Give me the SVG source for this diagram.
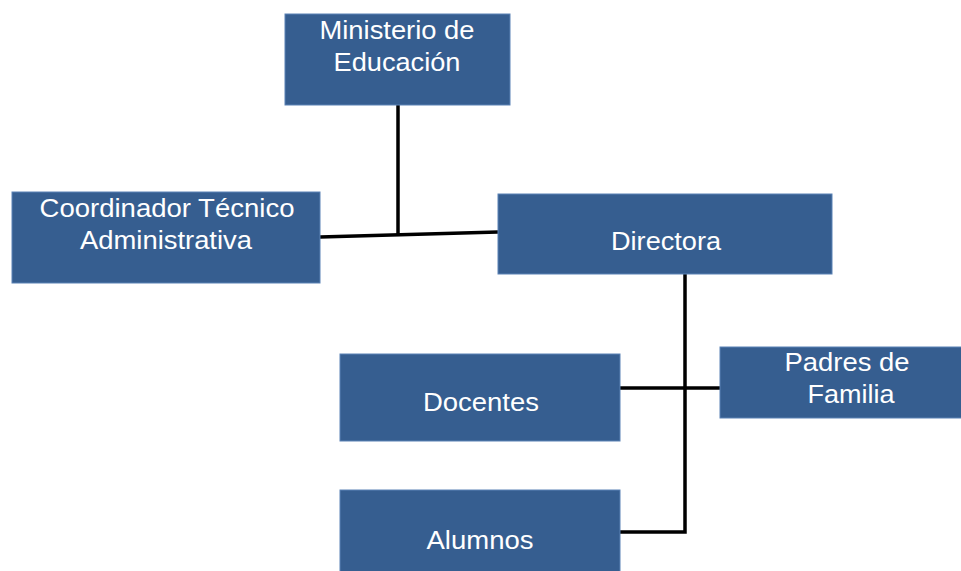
<svg xmlns="http://www.w3.org/2000/svg" width="961" height="571" viewBox="0 0 961 571">
<style>
.box{fill:#365E90;stroke:#5B82B5;stroke-width:1}
.t{font-family:"Liberation Sans",Arial,sans-serif;font-size:25px;fill:#FFFFFF;text-anchor:middle}
.c{fill:none;stroke:#000;stroke-width:3.5;stroke-linecap:butt}
</style>
<rect width="961" height="571" fill="#fff"/>
<g id="connectors">
<path class="c" d="M398 105 V234"/>
<path class="c" d="M320 237 L498 232"/>
<path class="c" d="M685 274 V532 H620"/>
<path class="c" d="M620 388 H720"/>
</g>
<g id="ministerio"><rect class="box" x="285" y="14" width="225" height="91"/><text class="t" x="397" y="39" textLength="155" lengthAdjust="spacingAndGlyphs">Ministerio de</text><text class="t" x="397" y="71" textLength="127" lengthAdjust="spacingAndGlyphs">Educación</text></g>
<g id="coordinador"><rect class="box" x="12" y="192" width="308" height="91"/><text class="t" x="167" y="217" textLength="255" lengthAdjust="spacingAndGlyphs">Coordinador Técnico</text><text class="t" x="166" y="249" textLength="172" lengthAdjust="spacingAndGlyphs">Administrativa</text></g>
<g id="directora"><rect class="box" x="498" y="194" width="334" height="80"/><text class="t" x="666" y="250" textLength="110" lengthAdjust="spacingAndGlyphs">Directora</text></g>
<g id="docentes"><rect class="box" x="340" y="354" width="280" height="87"/><text class="t" x="481" y="411" textLength="116" lengthAdjust="spacingAndGlyphs">Docentes</text></g>
<g id="padres"><rect class="box" x="720" y="347" width="245" height="71"/><text class="t" x="847" y="371" textLength="125" lengthAdjust="spacingAndGlyphs">Padres de</text><text class="t" x="851" y="403" textLength="87" lengthAdjust="spacingAndGlyphs">Familia</text></g>
<g id="alumnos"><rect class="box" x="340" y="490" width="280" height="90"/><text class="t" x="480" y="549" textLength="107" lengthAdjust="spacingAndGlyphs">Alumnos</text></g>
</svg>
